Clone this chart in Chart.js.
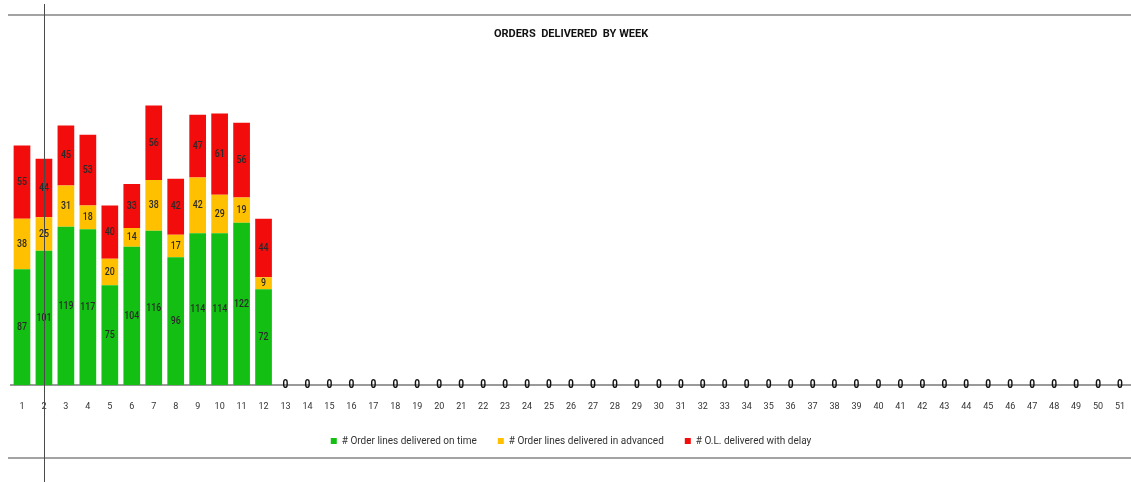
<!DOCTYPE html>
<html>
<head>
<meta charset="utf-8">
<title>Orders delivered by week</title>
<script src="https://cdn.jsdelivr.net/npm/chart.js@4.4.1/dist/chart.umd.min.js"></script>
<style>
  html, body { margin: 0; padding: 0; background: #ffffff; }
  #wrap { position: relative; width: 1131px; height: 482px; overflow: hidden; background: #ffffff; }
  #chart { position: absolute; left: 0; top: 0; }
  .rule-h { position: absolute; left: 8px; right: 0; height: 2px; background: #a3a3a3; z-index: 2; }
  .rule-v { position: absolute; left: 44px; top: 4px; bottom: 0; width: 1px; background: #4a4a4a; z-index: 3; }
</style>
</head>
<body>
<div id="wrap">
  <canvas id="chart" width="1131" height="482"></canvas>
  <div class="rule-h" style="top:14px"></div>
  <div class="rule-h" style="top:457px"></div>
  <div class="rule-v"></div>
</div>
<script>
// Week numbers 1..51
const weeks = ['1','2','3','4','5','6','7','8','9','10','11','12','13','14','15','16','17','18','19','20',
  '21','22','23','24','25','26','27','28','29','30','31','32','33','34','35','36','37','38','39','40',
  '41','42','43','44','45','46','47','48','49','50','51'];

// Order lines per week (weeks 13..51 have no deliveries yet)
const onTime   = [87, 101, 119, 117, 75, 104, 116, 96, 114, 114, 122, 72,
  0,0,0,0,0,0,0,0,0,0,0,0,0,0,0,0,0,0,0,0,0,0,0,0,0,0,0,0,0,0,0,0,0,0,0,0,0,0,0];
const advanced = [38, 25, 31, 18, 20, 14, 38, 17, 42, 29, 19, 9,
  0,0,0,0,0,0,0,0,0,0,0,0,0,0,0,0,0,0,0,0,0,0,0,0,0,0,0,0,0,0,0,0,0,0,0,0,0,0,0];
const delayed  = [55, 44, 45, 53, 40, 33, 56, 42, 47, 61, 56, 44,
  0,0,0,0,0,0,0,0,0,0,0,0,0,0,0,0,0,0,0,0,0,0,0,0,0,0,0,0,0,0,0,0,0,0,0,0,0,0,0];

const seriesNames = ['# Order lines delivered on time', '# Order lines delivered in advanced', '# O.L. delivered with delay'];
const seriesColors = ['#12bf12', '#ffc000', '#f20c0c'];

const FONT = 'Roboto, "Liberation Sans", Arial, sans-serif';

// Draws text squeezed horizontally, like a condensed face
function narrowText(ctx, text, x, y, squeeze) {
  ctx.save();
  ctx.translate(x, y);
  ctx.scale(squeeze, 1);
  ctx.fillText(text, 0, 0);
  ctx.restore();
}

// Writes each segment's value in its middle, and a single "0" on the axis for empty weeks
const valueLabels = {
  id: 'valueLabels',
  afterDatasetsDraw(chart) {
    const ctx = chart.ctx;
    ctx.save();
    ctx.textAlign = 'center';
    ctx.textBaseline = 'middle';
    ctx.font = '500 11px ' + FONT;
    ctx.fillStyle = '#2a2a2a';
    chart.data.datasets.forEach((ds, di) => {
      const meta = chart.getDatasetMeta(di);
      meta.data.forEach((bar, i) => {
        const v = ds.data[i];
        if (v > 0) {
          narrowText(ctx, String(v), bar.x, (bar.y + bar.base) / 2, 0.8);
        }
      });
    });
    const meta0 = chart.getDatasetMeta(0);
    const yZero = chart.scales.y.getPixelForValue(0);
    ctx.font = 'bold 12px ' + FONT;
    ctx.fillStyle = '#111111';
    weeks.forEach((w, i) => {
      const total = onTime[i] + advanced[i] + delayed[i];
      if (total === 0) {
        narrowText(ctx, '0', meta0.data[i].x, yZero, 0.85);
      }
    });
    ctx.restore();
  }
};

new Chart(document.getElementById('chart'), {
  type: 'bar',
  data: {
    labels: weeks,
    datasets: [
      { label: seriesNames[0], data: onTime,   backgroundColor: seriesColors[0] },
      { label: seriesNames[1], data: advanced, backgroundColor: seriesColors[1] },
      { label: seriesNames[2], data: delayed,  backgroundColor: seriesColors[2] }
    ]
  },
  options: {
    responsive: false,
    animation: false,
    devicePixelRatio: 1,
    layout: { padding: { left: 11, right: 0, top: 0, bottom: 26 } },
    datasets: { bar: { barPercentage: 0.76, categoryPercentage: 1.0 } },
    scales: {
      x: {
        stacked: true,
        grid: { display: false, drawTicks: true, tickLength: 13 },
        border: { display: true, color: '#9a9a9a', width: 2 },
        ticks: { color: '#333333', font: { family: FONT, size: 9 }, padding: 3, maxRotation: 0, autoSkip: false }
      },
      y: {
        stacked: true,
        display: false,
        min: 0,
        max: 250
      }
    },
    plugins: {
      title: {
        display: true,
        text: 'ORDERS  DELIVERED  BY WEEK',
        color: '#111111',
        font: { family: FONT, size: 11, weight: 'bold' },
        padding: { top: 28, bottom: 11 }
      },
      legend: {
        position: 'bottom',
        labels: {
          color: '#333333',
          font: { family: FONT, size: 10 },
          boxWidth: 6,
          boxHeight: 6,
          padding: 21
        }
      },
      tooltip: { enabled: false }
    }
  },
  plugins: [valueLabels]
});
</script>
</body>
</html>
